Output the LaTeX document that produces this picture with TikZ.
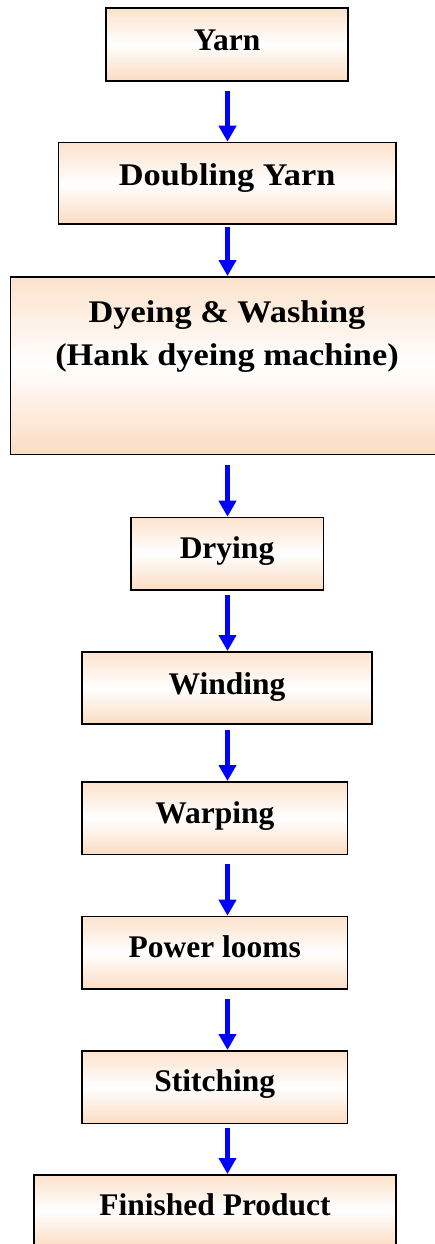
\documentclass[tikz,border=0pt]{standalone}
\usepackage{fontspec}
\setmainfont{Liberation Serif}
\newfontfamily\palfont[FakeStretch=1.09]{Liberation Serif}
\usetikzlibrary{arrows.meta}
\definecolor{peachtop}{RGB}{252,226,204}
\definecolor{peachbot}{RGB}{251,220,194}
\definecolor{flowblue}{RGB}{0,0,255}
\tikzset{
  stepbox/.style={draw=black, line width=1.6bp, rectangle, anchor=north,
    inner xsep=0pt, inner ysep=0pt, minimum height=0pt, align=center,
    top color=peachtop, bottom color=peachbot, middle color=white,
    font=\fontsize{31.5bp}{43.3bp}\selectfont\bfseries},
  palbox/.style={stepbox, font=\fontsize{31.5bp}{43.3bp}\selectfont\palfont\bfseries},
  flowarrow/.style={draw=flowblue, line width=5bp, -{Triangle[width=17bp,length=16bp]}}
}
\begin{document}
\begin{tikzpicture}[x=1bp,y=-1bp]
\useasboundingbox (0,0) rectangle (435,1244);
\clip (0,0) rectangle (435,1244);
\coordinate (axis) at (227.5,0);
\node[stepbox, minimum width=242bp, text height=42bp, text depth=30.7bp] (yarn) at (227,7.3) {Yarn};
\node[palbox, minimum width=337.7bp, text height=43.3bp, text depth=38bp] (doubling) at (227.2,141.7) {Doubling Yarn};
\node[palbox, minimum width=432.6bp, text height=89bp, text depth=88.7bp] (dyeing) at (227,276) {Dyeing \& Washing\\(Hank dyeing machine)};
\node[stepbox, minimum width=192.6bp, text height=41.3bp, text depth=31bp] (drying) at (227,516.7) {Drying};
\node[stepbox, minimum width=289.4bp, text height=42.3bp, text depth=30bp] (winding) at (227,651) {Winding};
\node[stepbox, minimum width=265bp, text height=41.7bp, text depth=31bp] (warping) at (214.8,781) {Warping};
\node[stepbox, minimum width=265bp, text height=41bp, text depth=31.3bp] (looms) at (214.8,915.7) {Power looms};
\node[stepbox, minimum width=265bp, text height=41bp, text depth=31.7bp] (stitching) at (214.8,1050) {Stitching};
\node[stepbox, minimum width=361.4bp, text height=41bp, text depth=31bp] (finished) at (215,1174) {Finished Product};
\draw[flowarrow, shorten <=9bp] (axis |- yarn.south) -- (axis |- doubling.north);
\draw[flowarrow, shorten <=2bp] (axis |- doubling.south) -- (axis |- dyeing.north);
\draw[flowarrow, shorten <=10bp] (axis |- dyeing.south) -- (axis |- drying.north);
\draw[flowarrow, shorten <=4bp] (axis |- drying.south) -- (axis |- winding.north);
\draw[flowarrow, shorten <=5bp] (axis |- winding.south) -- (axis |- warping.north);
\draw[flowarrow, shorten <=9bp] (axis |- warping.south) -- (axis |- looms.north);
\draw[flowarrow, shorten <=9bp] (axis |- looms.south) -- (axis |- stitching.north);
\draw[flowarrow, shorten <=4bp] (axis |- stitching.south) -- (axis |- finished.north);
\end{tikzpicture}
\end{document}
